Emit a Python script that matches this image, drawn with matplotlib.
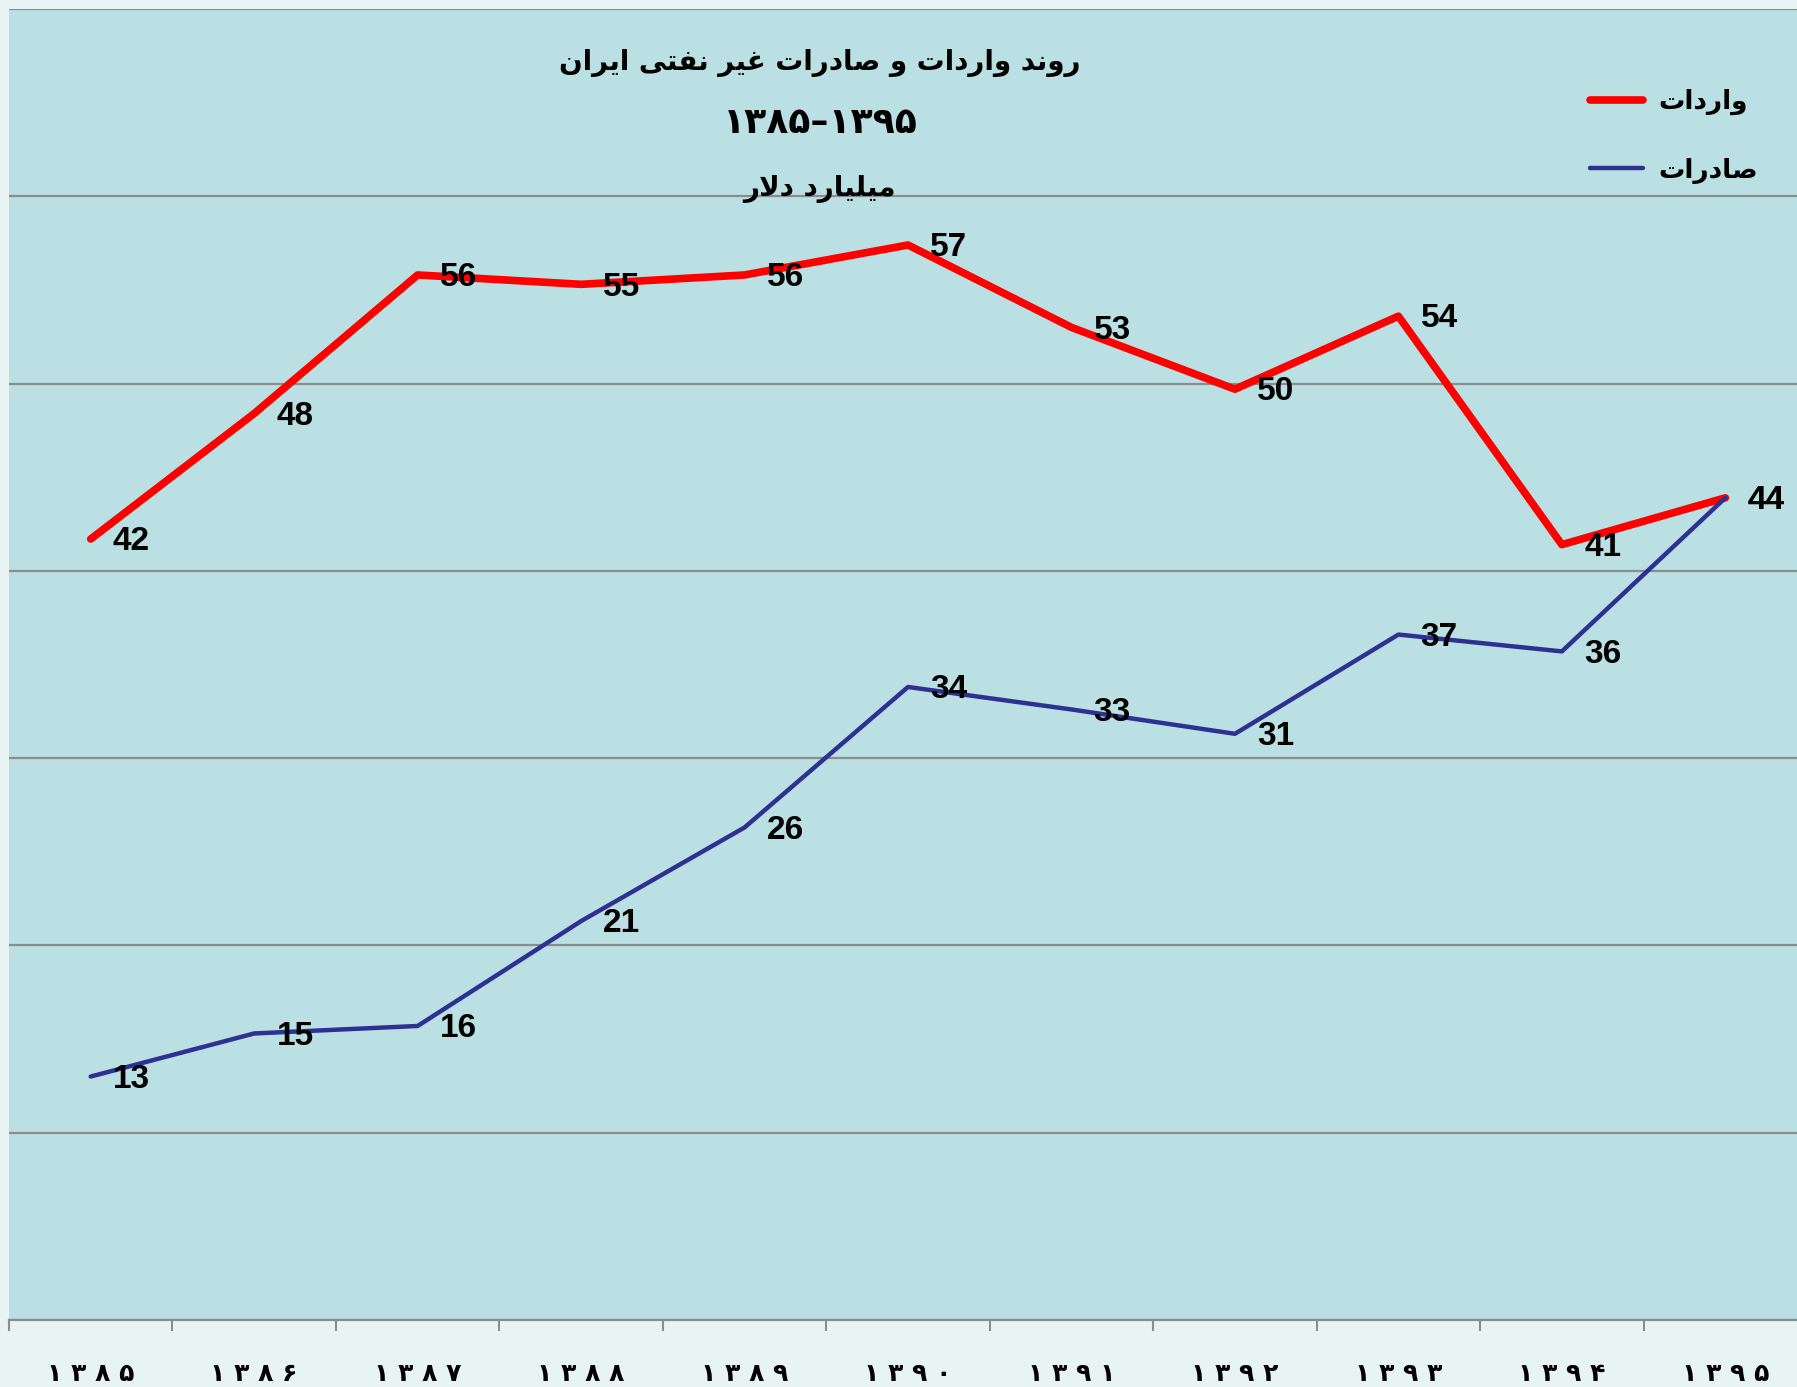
import matplotlib
matplotlib.use("Agg")
import matplotlib.pyplot as plt

# data (labels are the rounded values)
years = ["۱۳۸۵", "۱۳۸۶", "۱۳۸۷", "۱۳۸۸", "۱۳۸۹", "۱۳۹۰",
         "۱۳۹۱", "۱۳۹۲", "۱۳۹۳", "۱۳۹۴", "۱۳۹۵"]
imports = [41.7, 48.4, 55.8, 55.3, 55.8, 57.4, 53.0, 49.7, 53.6, 41.4, 43.9]
exports = [13.0, 15.3, 15.7, 21.3, 26.3, 33.8, 32.6, 31.3, 36.6, 35.7, 43.9]

title1 = "روند واردات و صادرات غیر نفتی ایران"
title2 = "۱۳۸۵–۱۳۹۵"
title3 = "میلیارد دلار"
name_imp = "واردات"
name_exp = "صادرات"

# tiny arabic shaper: matplotlib does no joining / bidi by itself
FORMS = {
    'ا': ('\uFE8D', '\uFE8E', None, None),
    'ت': ('\uFE95', '\uFE96', '\uFE97', '\uFE98'),
    'د': ('\uFEA9', '\uFEAA', None, None),
    'ر': ('\uFEAD', '\uFEAE', None, None),
    'ص': ('\uFEB9', '\uFEBA', '\uFEBB', '\uFEBC'),
    'غ': ('\uFECD', '\uFECE', '\uFECF', '\uFED0'),
    'ف': ('\uFED1', '\uFED2', '\uFED3', '\uFED4'),
    'ل': ('\uFEDD', '\uFEDE', '\uFEDF', '\uFEE0'),
    'م': ('\uFEE1', '\uFEE2', '\uFEE3', '\uFEE4'),
    'ن': ('\uFEE5', '\uFEE6', '\uFEE7', '\uFEE8'),
    'و': ('\uFEED', '\uFEEE', None, None),
    'ی': ('\uFEEF', '\uFEF0', '\uFEF3', '\uFEF4'),
    'لا': ('\uFEFB', '\uFEFC', None, None),
}


def shape(s):
    chars = []
    i = 0
    while i < len(s):
        if s[i] == 'ل' and i + 1 < len(s) and s[i + 1] == 'ا':
            chars.append('لا')
            i += 2
        else:
            chars.append(s[i])
            i += 1
    out = []
    for k, c in enumerate(chars):
        if c not in FORMS:
            out.append(c)
            continue
        prev = chars[k - 1] if k > 0 else None
        nxt = chars[k + 1] if k + 1 < len(chars) else None
        jp = prev in FORMS and FORMS[prev][2] is not None
        jn = FORMS[c][2] is not None and nxt in FORMS
        iso, fin, ini, med = FORMS[c]
        if jp and jn:
            out.append(med)
        elif jp:
            out.append(fin)
        elif jn:
            out.append(ini)
        else:
            out.append(iso)
    return ''.join(reversed(out))


FA = ['DejaVu Sans']
NUM = ['Liberation Sans', 'DejaVu Sans']

fig = plt.figure(figsize=(17.97, 13.87), dpi=100, facecolor='#E8F4F4')
ax = fig.add_axes([0.005, 0.0483, 1.0006, 0.9452])
ax.set_facecolor('#BAE0E3')

x = list(range(len(years)))
ax.plot(x, imports, color='#FF0000', lw=5.5, solid_capstyle='round', zorder=3,
        label=shape(name_imp))
ax.plot(x, exports, color='#2E3192', lw=3.2, solid_capstyle='round', zorder=4,
        label=shape(name_exp))

for xi, v in zip(x, imports):
    ax.annotate(f"{v:.0f}", (xi, v), xytext=(16, -2), textcoords='offset points',
                ha='left', va='center', fontsize=24, fontweight='bold',
                family=NUM, zorder=5)
for xi, v in zip(x, exports):
    ax.annotate(f"{v:.0f}", (xi, v), xytext=(16, -2), textcoords='offset points',
                ha='left', va='center', fontsize=24, fontweight='bold',
                family=NUM, zorder=5)

ax.set_xlim(-0.5, len(years) - 0.5)
ax.set_ylim(0, 70)
ax.set_yticks(range(0, 71, 10))
ax.yaxis.grid(True, color='#8C8C8C', lw=1.6)
ax.set_axisbelow(True)
ax.tick_params(axis='y', length=0, labelleft=False)

ax.set_xticks([i - 0.5 for i in range(len(years) + 1)])
ax.set_xticklabels([])
ax.set_xticks(x, minor=True)
ax.set_xticklabels([' '.join(y) for y in years], minor=True,
                   fontsize=18, fontweight='bold', family=FA)
ax.tick_params(axis='x', which='major', length=8, width=1.5, color='#8C8C8C',
               direction='out')
ax.tick_params(axis='x', which='minor', length=0, pad=30)

for s in ['left', 'right', 'top']:
    ax.spines[s].set_visible(False)
ax.spines['bottom'].set_color('#8C8C8C')
ax.spines['bottom'].set_linewidth(1.6)

# titles
ax.text(0.451, 0.959, shape(title1), transform=ax.transAxes, ha='center',
        va='center', fontsize=20, fontweight='bold', family=FA)
ax.text(0.451, 0.913, title2, transform=ax.transAxes, ha='center',
        va='center', fontsize=26, fontweight='bold', family=FA)
ax.text(0.451, 0.863, shape(title3), transform=ax.transAxes, ha='center',
        va='center', fontsize=20, fontweight='bold', family=FA)

leg = ax.legend(loc='upper left', bbox_to_anchor=(0.866, 0.957), frameon=False,
                prop={'family': FA, 'size': 19, 'weight': 'bold'},
                handlelength=2.0, handletextpad=0.6, labelspacing=1.6)

fig.savefig('out.png', dpi=100, facecolor=fig.get_facecolor())
